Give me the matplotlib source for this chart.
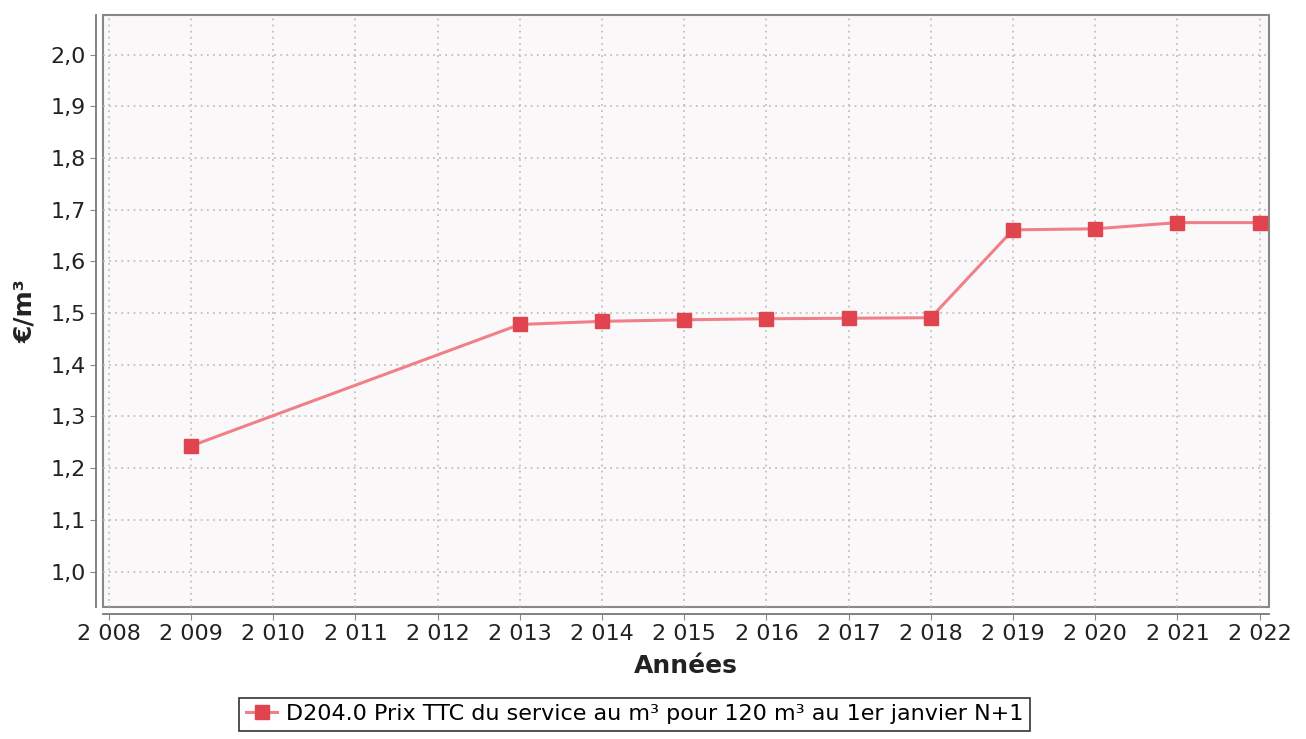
import matplotlib.pyplot as plt
from matplotlib.ticker import FuncFormatter, MultipleLocator

years = [2009, 2013, 2014, 2015, 2016, 2017, 2018, 2019, 2020, 2021, 2022]
prices = [1.243, 1.478, 1.484, 1.487, 1.489, 1.490, 1.491, 1.661, 1.663, 1.675, 1.675]
series_label = "D204.0 Prix TTC du service au m³ pour 120 m³ au 1er janvier N+1"

fig = plt.figure(figsize=(13.06, 7.39), dpi=100)
ax = fig.add_axes([0.079, 0.179, 0.893, 0.801])

ax.set_facecolor("#fbf8f9")
ax.patch.set_edgecolor("#888888")
ax.patch.set_linewidth(1.5)

ax.plot(years, prices, color="#f08088", linewidth=2.2,
        marker="s", markersize=10, markerfacecolor="#e0454f",
        markeredgecolor="#e0454f", label=series_label, zorder=3)

ax.set_xlim(2007.93, 2022.12)
ax.set_ylim(0.932, 2.077)
ax.xaxis.set_major_locator(MultipleLocator(1))
ax.yaxis.set_major_locator(MultipleLocator(0.1))
ax.xaxis.set_major_formatter(FuncFormatter(lambda v, p: f"{int(round(v)):,}".replace(",", " ")))
ax.yaxis.set_major_formatter(FuncFormatter(lambda v, p: f"{v:.1f}".replace(".", ",")))

ax.grid(True, color="#b8b8b8", linestyle=(0, (1.2, 2.8)), linewidth=1.1)

for side in ["top", "right"]:
    ax.spines[side].set_visible(False)
for side in ["left", "bottom"]:
    ax.spines[side].set_position(("outward", 5))
    ax.spines[side].set_color("#777777")
    ax.spines[side].set_linewidth(1.3)

ax.tick_params(labelsize=16, colors="#222222", length=4, color="#888888")
ax.set_xlabel("Années", fontsize=18, fontweight="bold", color="#222222", labelpad=7)
ax.set_ylabel("€/m³", fontsize=18, fontweight="bold", color="#222222", labelpad=10)

leg = fig.legend(loc="lower center", bbox_to_anchor=(0.486, -0.004), fontsize=16,
                 frameon=True, fancybox=False, edgecolor="black",
                 handlelength=1.4, borderpad=0.3, handletextpad=0.4)
leg.get_frame().set_linewidth(1.2)

fig.savefig("out.png", dpi=100)
